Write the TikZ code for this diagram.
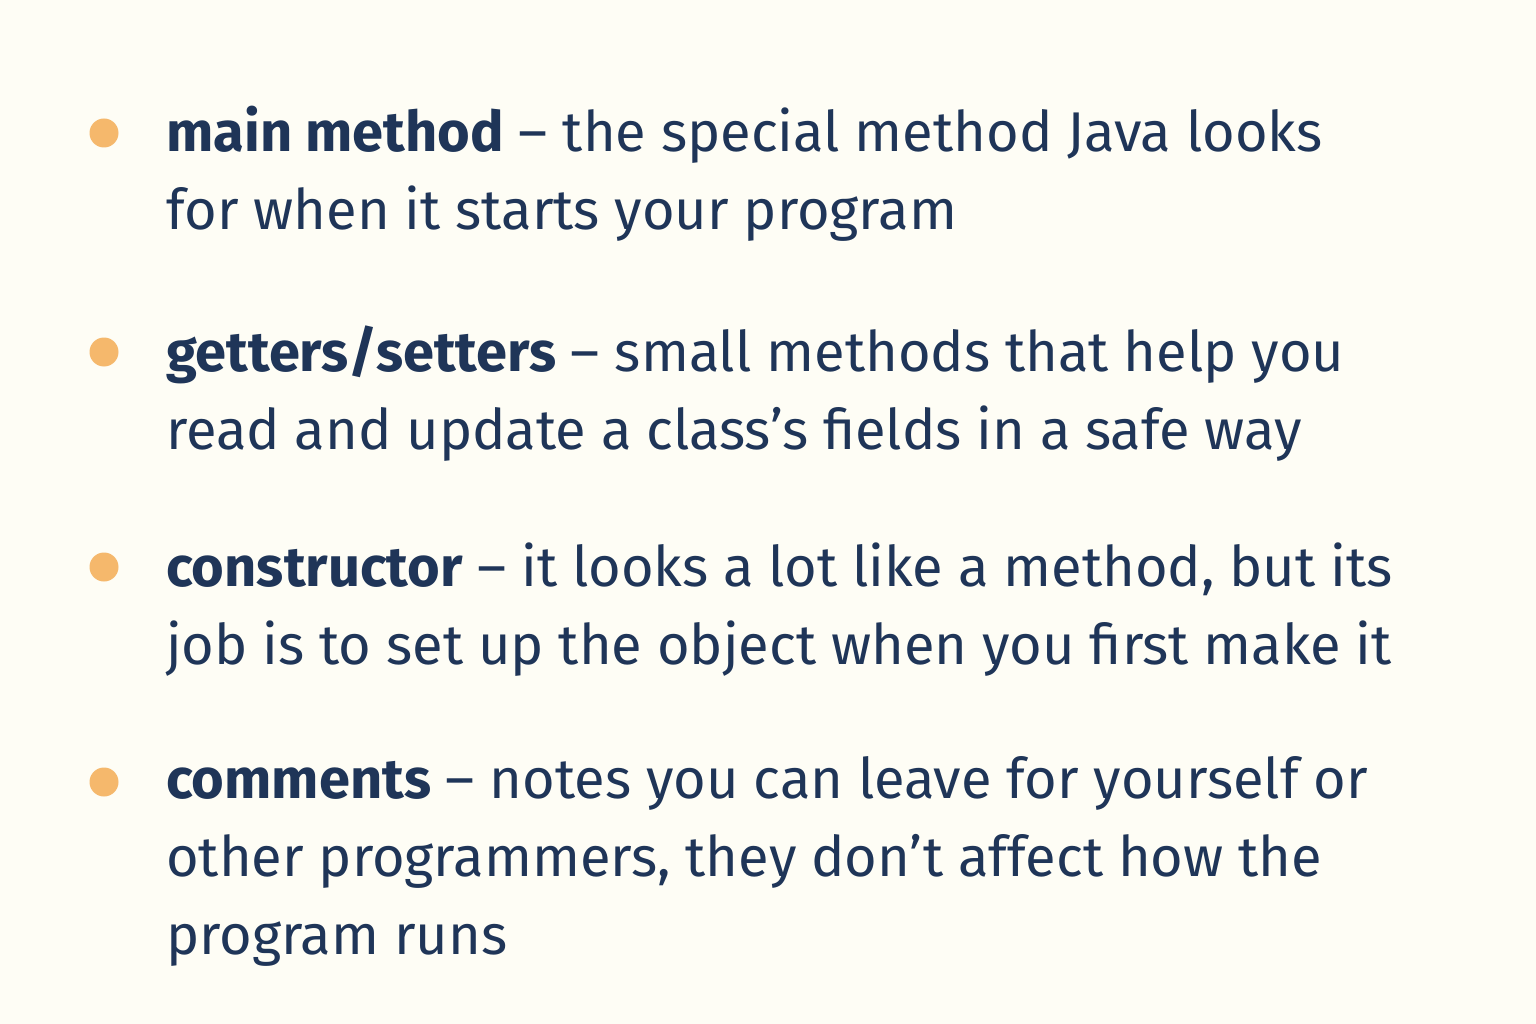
\documentclass[tikz,border=0pt]{standalone}
\usepackage{fontspec}
\setmainfont{Fira Sans}
\definecolor{bg}{HTML}{FEFDF5}
\definecolor{ink}{HTML}{1F3558}
\definecolor{dot}{HTML}{F5B86C}
\begin{document}
\begin{tikzpicture}[x=1pt, y=1pt,
		item/.style={anchor=base west, align=left, inner sep=0pt, text=ink, font=\fontsize{56}{78}\selectfont},
		bullet/.style={fill=dot}]
		\fill[bg] (0,0) rectangle (1536,-1024);
		\fill[bullet] (104,-133) circle (14.5);
		\fill[bullet] (104,-352) circle (14.5);
		\fill[bullet] (104,-567) circle (14.5);
		\fill[bullet] (104,-782) circle (14.5);
		\node[item] (main) at (166,-230) {\textbf{main method} – the special method Java looks\\for when it starts your program};
		\node[item] (getset) at (166,-449) {\textbf{getters/setters} – small methods that help you\\read and update a class’s fields in a safe way};
		\node[item] (ctor) at (166,-664) {\textbf{constructor} – it looks a lot like a method, but its\\job is to set up the object when you first make it};
		\node[item] (comm) at (166,-954) {\textbf{comments} – notes you can leave for yourself or\\other programmers, they don’t affect how the\\program runs};
	\end{tikzpicture}
\end{document}
